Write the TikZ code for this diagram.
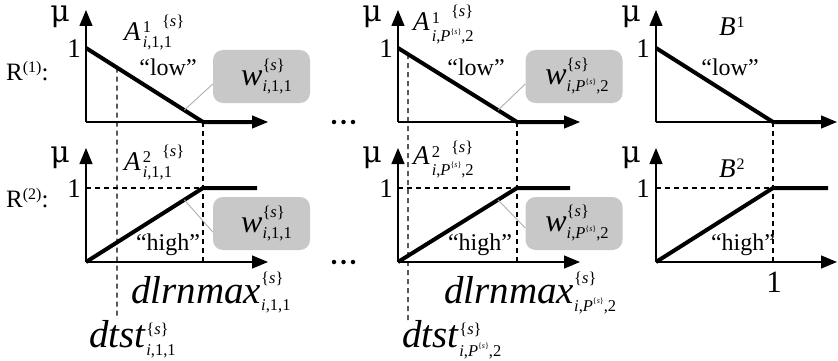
\documentclass[tikz,border=0pt]{standalone}
\usepackage{fontspec}
\setmainfont{Liberation Serif}
\newfontfamily\mufont{DejaVu Serif}
\usetikzlibrary{arrows.meta,calc}
\definecolor{boxgray}{RGB}{200,200,200}
\definecolor{linkgray}{RGB}{175,175,175}
% stacked scripts: #1 raise of sup, #2 sup, #3 drop of sub, #4 sub
\newcommand\sst[4]{\begingroup\fontsize{16.5}{16.5}\selectfont
  \setbox0\hbox{\raisebox{#1}{#2}}\setbox2\hbox{\raisebox{-#3}{#4}}%
  \ifdim\wd0>\wd2\relax\rlap{\box2}\box0\else\rlap{\box0}\box2\fi\endgroup}
\newcommand\tinys{\raisebox{0.45em}{\fontsize{8}{8}\selectfont\{\textit{s}\}}}
\newcommand\brs{\{\textit{s}\}}
\newcommand\subP{\textit{i},\textit{P}\tinys,2}
\newcommand\subA{\textit{i},1,1}
\begin{document}
\begin{tikzpicture}[x=1pt,y=-1pt,
  axis/.style={line width=1.3pt,-{Triangle[length=16pt,width=13pt]}},
  mf/.style={line width=4pt},
  guide/.style={line width=1.2pt,dash pattern=on 5pt off 4pt},
  wbox/.style={fill=boxgray,rounded corners=10pt,minimum width=97pt,minimum height=53pt,inner sep=0pt,font=\fontsize{32}{32}\selectfont},
  link/.style={draw=linkgray,line width=0.9pt},
  lbl/.style={inner sep=0pt,anchor=base west},
  num/.style={inner sep=0pt,anchor=base east,font=\fontsize{27}{27}\selectfont},
  mu/.style={inner sep=0pt,anchor=base,font=\fontsize{30}{30}\mufont},
  ling/.style={inner sep=0pt,anchor=base,font=\fontsize{24}{24}\selectfont},
  setlbl/.style={inner sep=0pt,anchor=base west,font=\fontsize{27}{27}\selectfont},
  varlbl/.style={inner sep=0pt,anchor=base west,font=\fontsize{39}{39}\selectfont},
  dot/.style={fill=black,circle,inner sep=0pt,minimum size=4.5pt}
]
\useasboundingbox (0,0) rectangle (838,361);

% ---------------- panel 1 ----------------
\coordinate (p1o) at (86,122); \coordinate (p1y) at (86,10); \coordinate (p1x) at (268,122);
\coordinate (p1t) at (86,48); \coordinate (p1c) at (203,122); \coordinate (p1e) at (256,122);
\draw[axis] (p1o) -- (p1y); \draw[axis] (p1o) -- (p1x);
\draw[mf] (p1t) -- (p1c) -- (p1e);

\coordinate (q1o) at (86,262); \coordinate (q1y) at (86,148); \coordinate (q1x) at (268,262);
\coordinate (q1c) at (203,188); \coordinate (q1e) at (257,188); \coordinate (q1h) at (86,188);
\draw[axis] (q1o) -- (q1y); \draw[axis] (q1o) -- (q1x);
\draw[mf] (q1o) -- (q1c) -- (q1e);

\coordinate (g1a) at ($(p1t)!0.265!(p1c)$); \coordinate (g1b) at (117,317);
\coordinate (g1c) at (203,262);
\draw[guide] (g1a) -- (g1b);
\draw[guide] (p1c) -- (g1c);
\draw[guide] (q1h) -- (q1c);

% ---------------- panel 2 ----------------
\coordinate (p2o) at (398,122); \coordinate (p2y) at (398,10); \coordinate (p2x) at (580,122);
\coordinate (p2t) at (398,48); \coordinate (p2c) at (517,122); \coordinate (p2e) at (568,122);
\draw[axis] (p2o) -- (p2y); \draw[axis] (p2o) -- (p2x);
\draw[mf] (p2t) -- (p2c) -- (p2e);

\coordinate (q2o) at (398,262); \coordinate (q2y) at (398,148); \coordinate (q2x) at (580,262);
\coordinate (q2c) at (517,188); \coordinate (q2e) at (570,188); \coordinate (q2h) at (398,188);
\draw[axis] (q2o) -- (q2y); \draw[axis] (q2o) -- (q2x);
\draw[mf] (q2o) -- (q2c) -- (q2e);

\coordinate (g2a) at ($(p2t)!0.084!(p2c)$); \coordinate (g2b) at (408,323);
\coordinate (g2c) at (517,262);
\draw[guide] (g2a) -- (g2b);
\draw[guide] (p2c) -- (g2c);
\draw[guide] (q2h) -- (q2c);

% ---------------- panel 3 ----------------
\coordinate (p3o) at (656,122); \coordinate (p3y) at (656,10); \coordinate (p3x) at (837,122);
\coordinate (p3t) at (656,48); \coordinate (p3c) at (773,122); \coordinate (p3e) at (825,122);
\draw[axis] (p3o) -- (p3y); \draw[axis] (p3o) -- (p3x);
\draw[mf] (p3t) -- (p3c) -- (p3e);

\coordinate (q3o) at (656,262); \coordinate (q3y) at (656,148); \coordinate (q3x) at (837,262);
\coordinate (q3c) at (773,188); \coordinate (q3e) at (828,188); \coordinate (q3h) at (656,188);
\draw[axis] (q3o) -- (q3y); \draw[axis] (q3o) -- (q3x);
\draw[mf] (q3o) -- (q3c) -- (q3e);

\coordinate (g3c) at (773,262);
\draw[guide] (p3c) -- (g3c);
\draw[guide] (q3h) -- (q3c);

% ---------------- weight boxes ----------------
\node[wbox] (w1) at (261.5,76.5) {\hspace*{10pt}\textit{w}\sst{15pt}{\brs}{6pt}{\subA}};
\node[wbox] (w2) at (261.5,223.5) {\hspace*{10pt}\textit{w}\sst{15pt}{\brs}{6pt}{\subA}};
\node[wbox] (w3) at (574,76.5) {\hspace*{6pt}\textit{w}\sst{15pt}{\brs}{7pt}{\subP}};
\node[wbox] (w4) at (574,223.5) {\hspace*{6pt}\textit{w}\sst{15pt}{\brs}{7pt}{\subP}};

\coordinate (k1) at ($(p1t)!0.84!(p1c)$);
\coordinate (k2) at ($(q1o)!0.84!(q1c)$);
\coordinate (k3) at ($(p2t)!0.84!(p2c)$);
\coordinate (k4) at ($(q2o)!0.84!(q2c)$);
\draw[link] (k1) -- (w1.west |- 0,84);
\draw[link] (k2) -- (w2.west |- 0,232);
\draw[link] (k3) -- (w3.west |- 0,84);
\draw[link] (k4) -- (w4.west |- 0,228);

% ---------------- dots ----------------
\node[dot] (d1) at (334,122) {}; \node[dot] (d2) at (343.5,122) {}; \node[dot] (d3) at (353,122) {};
\node[dot] (d4) at (334,262) {}; \node[dot] (d5) at (343.5,262) {}; \node[dot] (d6) at (353,262) {};

% ---------------- row labels ----------------
\node[lbl,font=\fontsize{25}{25}\selectfont] (r1) at (6,81) {R\raisebox{8pt}{\fontsize{16}{16}\selectfont(1)}:};
\node[lbl,font=\fontsize{25}{25}\selectfont] (r2) at (6,207) {R\raisebox{8pt}{\fontsize{16}{16}\selectfont(2)}:};

% ---------------- mu and 1 labels ----------------
\node[mu] (m1) at (60,22) {μ}; \node[mu] (m2) at (60,162) {μ};
\node[mu] (m3) at (372,22) {μ}; \node[mu] (m4) at (372,162) {μ};
\node[mu] (m5) at (631,22) {μ}; \node[mu] (m6) at (631,162) {μ};
\node[num] (n1) at (81,58) {1}; \node[num] (n2) at (81,197) {1};
\node[num] (n3) at (393,58) {1}; \node[num] (n4) at (393,197) {1};
\node[num] (n5) at (650,58) {1}; \node[num] (n6) at (650,197) {1};
\node[inner sep=0pt,anchor=base,font=\fontsize{31}{31}\selectfont] (n7) at (774,292) {1};

% ---------------- set labels ----------------
\node[setlbl] (a1) at (124,41) {\textit{A}\kern2pt\sst{8pt}{1\hspace{11pt}\raisebox{6pt}{\brs}}{7pt}{\subA}};
\node[setlbl] (a2) at (124,170) {\textit{A}\kern2pt\sst{8pt}{2\hspace{11pt}\raisebox{6pt}{\brs}}{7pt}{\subA}};
\node[setlbl] (a3) at (413,31) {\textit{A}\kern2pt\sst{7pt}{1\hspace{11pt}\raisebox{7pt}{\brs}}{11pt}{\subP}};
\node[setlbl] (a4) at (413,164) {\textit{A}\kern2pt\sst{7pt}{2\hspace{11pt}\raisebox{5pt}{\brs}}{11pt}{\subP}};
\node[setlbl] (b1) at (719,36) {\textit{B}\kern1pt\raisebox{8pt}{\fontsize{16}{16}\selectfont 1}};
\node[setlbl] (b2) at (719,177) {\textit{B}\kern1pt\raisebox{8pt}{\fontsize{16}{16}\selectfont 2}};

% ---------------- linguistic labels ----------------
\node[ling] (l1) at (168,75) {“low”};
\node[ling] (l2) at (476,75) {“low”};
\node[ling] (l3) at (730,75) {“low”};
\node[ling] (h1) at (168,250) {“high”};
\node[ling] (h2) at (480,250) {“high”};
\node[ling] (h3) at (743,250) {“high”};

% ---------------- variable labels ----------------
\node[varlbl] (v1) at (131,303) {\textit{dlrnmax}\sst{20pt}{\brs}{7pt}{\subA}};
\node[varlbl] (v2) at (444,303) {\textit{dlrnmax}\sst{20pt}{\brs}{8pt}{\subP}};
\node[varlbl] (v3) at (89,347) {\textit{dtst}\sst{13pt}{\brs}{8pt}{\subA}};
\node[varlbl] (v4) at (402,347) {\textit{dtst}\sst{13pt}{\brs}{9pt}{\subP}};
\end{tikzpicture}
\end{document}
